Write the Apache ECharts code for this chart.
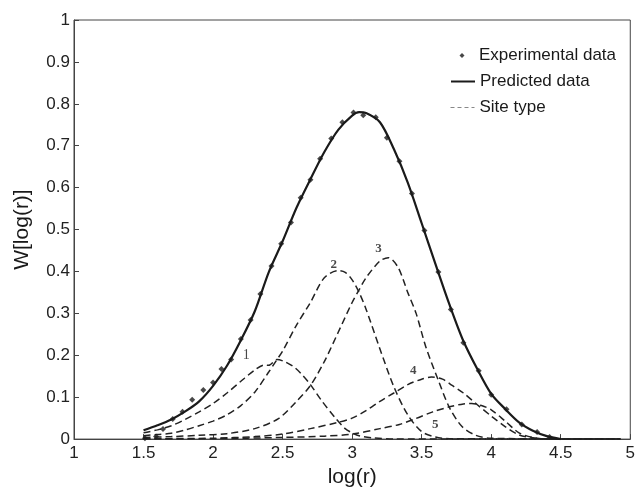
<!DOCTYPE html>
<html><head><meta charset="utf-8">
<script src="https://cdn.jsdelivr.net/npm/echarts@6/dist/echarts.min.js"></script>
<style>html,body{margin:0;padding:0;background:#fff}#c{width:638px;height:493px}</style>
</head><body><div id="c"></div><script>
// ---- axis ticks ----
const xTicks = [1, 1.5, 2, 2.5, 3, 3.5, 4, 4.5, 5];
const yTicks = [0, 0.1, 0.2, 0.3, 0.4, 0.5, 0.6, 0.7, 0.8, 0.9, 1];
const xAxisName = 'log(r)';
const yAxisName = 'W[log(r)]';
const legendNames = ['Experimental data', 'Predicted data', 'Site type'];

// ---- experimental data ----
const expX = [1.51,1.59,1.64,1.71,1.78,1.85,1.93,2.00,2.06,2.13,2.20,2.27,2.34,2.42,2.49,2.56,2.63,2.70,2.77,2.85,2.93,3.01,3.08,3.17,3.25,3.34,3.43,3.52,3.62,3.71,3.80,3.91,4.00,4.11,4.22,4.33,4.42];
const expY = [0.002,0.006,0.024,0.048,0.065,0.094,0.117,0.135,0.167,0.190,0.239,0.284,0.346,0.413,0.466,0.517,0.576,0.619,0.669,0.717,0.756,0.779,0.773,0.768,0.719,0.663,0.586,0.498,0.399,0.309,0.230,0.163,0.106,0.071,0.035,0.017,0.005];

// ---- predicted curve ----
const predX = [1.50,1.60,1.70,1.80,1.90,2.00,2.10,2.20,2.30,2.40,2.50,2.60,2.70,2.80,2.90,3.00,3.05,3.10,3.20,3.30,3.40,3.50,3.60,3.70,3.80,3.90,4.00,4.10,4.20,4.30,4.40,4.50];
const predY = [0.021,0.033,0.047,0.066,0.090,0.127,0.175,0.236,0.305,0.398,0.472,0.552,0.620,0.685,0.738,0.772,0.780,0.778,0.756,0.692,0.612,0.515,0.417,0.321,0.234,0.167,0.108,0.072,0.040,0.020,0.007,0.000];

// ---- site types ----
const site1X = [1.50,1.60,1.70,1.80,1.90,2.00,2.10,2.20,2.30,2.37,2.40,2.46,2.52,2.59,2.65,2.70,2.78,2.88,2.95,3.00,3.05,3.15,3.30,4.93];
const site1Y = [0.015,0.022,0.032,0.047,0.065,0.085,0.110,0.138,0.165,0.177,0.176,0.190,0.184,0.170,0.150,0.130,0.092,0.050,0.025,0.015,0.008,0.003,0.000,0.000];
const site2X = [1.50,1.60,1.70,1.80,1.90,2.00,2.10,2.20,2.30,2.40,2.45,2.50,2.60,2.70,2.80,2.90,2.95,3.00,3.05,3.10,3.20,3.30,3.40,3.50,3.60,3.70,4.93];
const site2Y = [0.008,0.011,0.014,0.022,0.032,0.043,0.058,0.080,0.112,0.160,0.185,0.210,0.272,0.326,0.385,0.402,0.398,0.380,0.350,0.310,0.215,0.125,0.058,0.018,0.005,0.001,0.000];
const site3X = [1.50,1.70,1.90,2.10,2.30,2.47,2.60,2.70,2.80,2.90,3.00,3.05,3.10,3.20,3.26,3.33,3.40,3.46,3.53,3.62,3.70,3.79,3.89,4.00,4.93];
const site3Y = [0.004,0.006,0.009,0.013,0.025,0.049,0.090,0.128,0.185,0.255,0.326,0.356,0.385,0.425,0.433,0.410,0.350,0.300,0.220,0.140,0.075,0.030,0.009,0.002,0.000];
const site4X = [1.50,2.00,2.30,2.50,2.70,2.90,3.00,3.10,3.20,3.30,3.40,3.50,3.57,3.65,3.72,3.80,3.90,4.00,4.10,4.20,4.30,4.40,4.93];
const site4Y = [0.001,0.002,0.006,0.012,0.025,0.040,0.050,0.068,0.090,0.110,0.130,0.143,0.148,0.143,0.128,0.110,0.082,0.055,0.030,0.010,0.003,0.000,0.000];
const site5X = [1.50,2.00,2.50,2.80,3.00,3.20,3.34,3.45,3.58,3.70,3.80,3.86,3.93,4.00,4.10,4.20,4.30,4.40,4.93];
const site5Y = [0.000,0.001,0.004,0.007,0.012,0.025,0.035,0.048,0.065,0.077,0.084,0.085,0.080,0.070,0.043,0.015,0.004,0.000,0.000];

// ---- peak labels ----
const labelText = ['1','2','3','4','5'];
const labelX = [2.238, 2.868, 3.19, 3.44, 3.597];
const labelY = [0.201, 0.416, 0.454, 0.163, 0.035];

function pairs(xs, ys){ return xs.map((x,i)=>[x, ys[i]]); }

const FONT = '"Liberation Sans", Arial, Helvetica, sans-serif';
const siteSets = [[site1X,site1Y],[site2X,site2Y],[site3X,site3Y],[site4X,site4Y],[site5X,site5Y]];

const series = siteSets.map((s, i) => ({
  name: 'Site type',
  type: 'line',
  data: pairs(s[0], s[1]),
  symbol: 'none',
  smooth: 0.3,
  itemStyle: { color: '#222' },
  lineStyle: { color: '#222', width: 1.5, type: [7, 4] },
  z: 2,
  silent: true
}));
series.push({
  name: 'Predicted data',
  type: 'line',
  data: pairs(predX, predY),
  symbol: 'none',
  smooth: 0.3,
  itemStyle: { color: '#1a1a1a' },
  lineStyle: { color: '#1a1a1a', width: 2.2 },
  z: 3
});
series.push({
  name: 'Experimental data',
  type: 'scatter',
  data: pairs(expX, expY),
  symbol: 'diamond',
  symbolSize: 6,
  itemStyle: { color: '#1a1a1a' },
  z: 4
});
series.push({
  name: 'labels',
  type: 'scatter',
  data: labelText.map((t, i) => ({
    name: t, value: [labelX[i], labelY[i]],
    label: { fontWeight: i === 0 ? 'normal' : 'bold', fontSize: i === 0 ? 14 : 13 }
  })),
  symbolSize: 0,
  label: {
    show: true, position: 'inside', formatter: '{b}',
    fontFamily: '"Liberation Serif", "Times New Roman", serif',
    fontSize: 13, color: '#1a1a1a'
  },
  z: 5, silent: true
});

const legendBase = {
  orient: 'vertical', left: 445, itemWidth: 24, selectedMode: false,
  textStyle: { fontFamily: FONT, fontSize: 17, color: '#1a1a1a' }
};
const hiddenSym = { color: 'rgba(0,0,0,0)', borderWidth: 0, opacity: 0 };

const option = {
  animation: false,
  backgroundColor: '#fff',
  grid: { left: 74, right: 5, top: 20, bottom: 49, show: true, borderColor: '#444', borderWidth: 1, backgroundColor: 'transparent' },
  legend: [
    Object.assign({}, legendBase, { top: 42, itemHeight: 5, data: [{ name: legendNames[0], icon: 'path://M0,0 M24,5 M12,0 L14.5,2.5 L12,5 L9.5,2.5 Z', itemStyle: { color: '#1a1a1a' } }] }),
    Object.assign({}, legendBase, { top: 68, itemHeight: 14, data: [{ name: legendNames[1], itemStyle: hiddenSym, lineStyle: { color: '#1a1a1a', width: 2 } }] }),
    Object.assign({}, legendBase, { top: 94, itemHeight: 14, data: [{ name: legendNames[2], itemStyle: hiddenSym, lineStyle: { color: '#888', width: 1, type: [4, 3] } }] })
  ],
  xAxis: {
    type: 'value', min: xTicks[0], max: xTicks[xTicks.length - 1], interval: xTicks[1] - xTicks[0],
    name: xAxisName, nameLocation: 'middle', nameGap: 26,
    nameTextStyle: { fontFamily: FONT, fontSize: 21, color: '#1a1a1a' },
    axisLine: { show: true, lineStyle: { color: '#444', width: 1 } },
    axisTick: { show: true, inside: true, length: 5, lineStyle: { color: '#444' } },
    axisLabel: { fontFamily: FONT, fontSize: 17, color: '#222', margin: 6 },
    splitLine: { show: false }
  },
  yAxis: {
    type: 'value', min: yTicks[0], max: yTicks[yTicks.length - 1], interval: yTicks[1] - yTicks[0],
    name: yAxisName, nameLocation: 'middle', nameGap: 41, nameRotate: 90,
    nameTextStyle: { fontFamily: FONT, fontSize: 21, color: '#1a1a1a' },
    axisLine: { show: true, lineStyle: { color: '#444', width: 1 } },
    axisTick: { show: true, inside: true, length: 5, lineStyle: { color: '#444' } },
    axisLabel: { fontFamily: FONT, fontSize: 17, color: '#222', margin: 4 },
    splitLine: { show: false }
  },
  series: series
};

const chart = echarts.init(document.getElementById('c'), null, { renderer: 'canvas' });
chart.setOption(option);
</script></body></html>
